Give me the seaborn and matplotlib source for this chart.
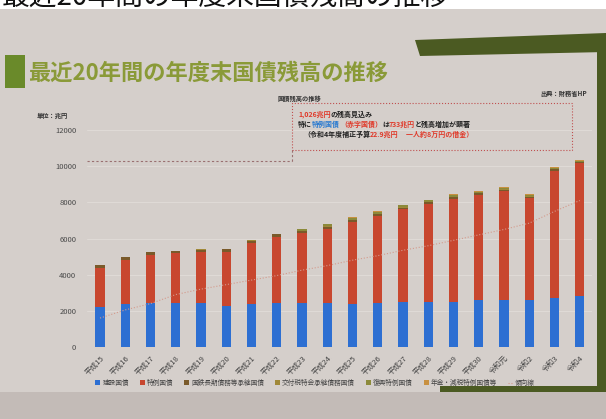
import matplotlib.pyplot as plt
import matplotlib.patches as mpatches
import numpy as np
import seaborn as sns

sns.set_theme(style="white")
plt.rcParams["font.family"] = ["Noto Sans CJK JP", "DejaVu Sans"]

W, H = 606, 419
PAPER = "#d5cfcb"
GREEN_DARK = "#4b5a22"

TITLE = "最近20年間の年度末国債残高の推移"

YEARS = ["平成15", "平成16", "平成17", "平成18", "平成19", "平成20", "平成21",
         "平成22", "平成23", "平成24", "平成25", "平成26", "平成27", "平成28",
         "平成29", "平成30", "令和元", "令和2", "令和3", "令和4"]

# stacked components, bottom to top
KENSETSU = [2220, 2370, 2460, 2460, 2410, 2280, 2370, 2410, 2460, 2410,
            2390, 2460, 2500, 2480, 2500, 2590, 2610, 2610, 2720, 2830]
TOKUREI = [2160, 2440, 2630, 2730, 2830, 2990, 3360, 3700, 3830, 4130,
           4500, 4770, 5110, 5430, 5700, 5820, 6010, 5630, 7040, 7330]
KOKUTETSU = [160, 155, 150, 145, 140, 135, 130, 125, 120, 115,
             110, 105, 100, 95, 90, 85, 80, 75, 70, 65]
KOUFUZEI = [0, 0, 0, 0, 30, 30, 30, 30, 30, 30,
            30, 30, 30, 30, 30, 30, 30, 30, 30, 30]
FUKKOU = [0, 0, 0, 0, 0, 0, 0, 0, 100, 110,
          100, 90, 85, 80, 75, 70, 65, 60, 55, 50]
NENKIN = [0, 0, 0, 0, 0, 0, 0, 0, 0, 30,
          45, 45, 45, 40, 40, 35, 35, 30, 30, 25]
TREND = [1600, 2050, 2400, 2900, 3200, 3450, 3700, 3950, 4250, 4500,
         4800, 5050, 5350, 5600, 5900, 6200, 6500, 6850, 7500, 8100]
REF_LEVEL = 10260

SERIES = [
    ("建設国債", KENSETSU, "#2d6fd2"),
    ("特例国債", TOKUREI, "#c8472f"),
    ("国鉄長期債務等承継国債", KOKUTETSU, "#7a5a2a"),
    ("交付税特会承継債務国債", KOUFUZEI, "#a08838"),
    ("復興特例国債", FUKKOU, "#8c8a3a"),
    ("年金・減税特例国債等", NENKIN, "#c89040"),
]


def fx(x):
    return x / W


def fy(y):
    return 1 - y / H


def rect(x0, y0, x1, y1, color, **kw):
    fig.add_artist(mpatches.Rectangle((fx(x0), fy(y1)), fx(x1) - fx(x0), fy(y0) - fy(y1),
                                      transform=fig.transFigure, facecolor=color,
                                      edgecolor="none", **kw))


def runs(x, y, parts, size=5.0):
    r = fig.canvas.get_renderer()
    for s, c in parts:
        t = fig.text(fx(x), fy(y), s, color=c, fontsize=size, weight="bold", va="center")
        x += t.get_window_extent(renderer=r).width


fig = plt.figure(figsize=(6.06, 4.19), dpi=100, facecolor=PAPER)

# photo framing: white strip on top, green slide decorations
rect(0, 0, 606, 9, "white")
fig.add_artist(mpatches.Polygon([(fx(415), fy(40)), (fx(606), fy(33)), (fx(606), fy(52)), (fx(420), fy(56))],
                                closed=True, transform=fig.transFigure, facecolor=GREEN_DARK, edgecolor="none"))
rect(597, 40, 606, 395, GREEN_DARK)
rect(440, 386, 606, 392, GREEN_DARK)
rect(0, 392, 606, 419, "#c3bbb7")
rect(5, 55, 25, 88, "#6a8a2a")

fig.text(fx(2), fy(5), TITLE, fontsize=20, color="#111111", va="baseline")
fig.text(fx(28), fy(73), TITLE, fontsize=16, color="#8a9a38", weight="bold", va="center")
fig.text(fx(540), fy(93), "出典：財務省HP", fontsize=4.5, color="#333333", weight="bold", va="center")
fig.text(fx(37), fy(115), "単位：兆円", fontsize=4.5, color="#333333", weight="bold", va="center")

ax = fig.add_axes([fx(87.4), fy(347), 505 / W, 217 / H])
ax.set_facecolor("none")

bottom = np.zeros(len(YEARS))
for label, vals, color in SERIES:
    sns.barplot(x=YEARS, y=vals, bottom=bottom, color=color, width=0.36, errorbar=None,
                saturation=1, order=YEARS, label=label, linewidth=0, edgecolor="none", ax=ax)
    bottom += np.array(vals)

sns.lineplot(x=np.arange(len(YEARS)), y=TREND, color="#d49a8c", lw=0.8, linestyle=":",
             label="傾向線", legend=False, ax=ax)
ax.hlines(REF_LEVEL, -0.5, 7.6, colors="#9a7070", linestyles=(0, (2, 2)), lw=0.8)

ax.set_xlim(-0.5, 19.5)
ax.set_ylim(0, 12000)
ax.set_yticks(range(0, 12001, 2000))
ax.grid(axis="y", color="#e2ddd9", lw=0.6)
ax.set_axisbelow(True)
for s in ax.spines.values():
    s.set_visible(False)
ax.set_xlabel("")
ax.set_ylabel("")
ax.tick_params(axis="y", labelsize=5.5, colors="#4a4a4a", pad=8, length=0)
ax.tick_params(axis="x", labelsize=5.5, colors="#444444", pad=5, length=0)
plt.setp(ax.get_xticklabels(), rotation=45, ha="right", rotation_mode="anchor")
if ax.get_legend():
    ax.get_legend().remove()

handles, labels = ax.get_legend_handles_labels()
order = [labels.index(s[0]) for s in SERIES] + [labels.index("傾向線")]
fig.legend([handles[i] for i in order], [labels[i] for i in order], loc="center",
           bbox_to_anchor=(fx(315), fy(383)), ncol=7, frameon=False, fontsize=4.8,
           handlelength=0.8, handleheight=0.8, handletextpad=0.3, columnspacing=1.6,
           labelcolor="#444444")

# annotation box
fig.add_artist(mpatches.Rectangle((fx(292), fy(150)), fx(572) - fx(292), fy(103) - fy(150),
                                  transform=fig.transFigure, facecolor="none",
                                  edgecolor="#c05050", lw=0.8, linestyle=":"))
fig.add_artist(plt.Line2D([fx(292), fx(292)], [fy(150), fy(162)], transform=fig.transFigure,
                          color="#9a7070", lw=0.8, linestyle=(0, (2, 2))))
fig.text(fx(278), fy(99), "国債残高の推移", fontsize=4.5, color="#333333", weight="bold", va="center")
runs(298, 114, [("1,026兆円", "#e03a2a"), ("の残高見込み", "#222222")])
runs(298, 124, [("特に", "#222222"), ("特例国債", "#2a7ad0"), ("（赤字国債）", "#e03a2a"),
                ("は", "#222222"), ("733兆円", "#e03a2a"), ("と残高増加が顕著", "#222222")])
runs(303, 134, [("（令和4年度補正予算", "#222222"), ("22.9兆円", "#e03a2a"),
                ("　一人約8万円の借金）", "#e03a2a")])

fig.savefig("out.png", dpi=100, facecolor=fig.get_facecolor())
